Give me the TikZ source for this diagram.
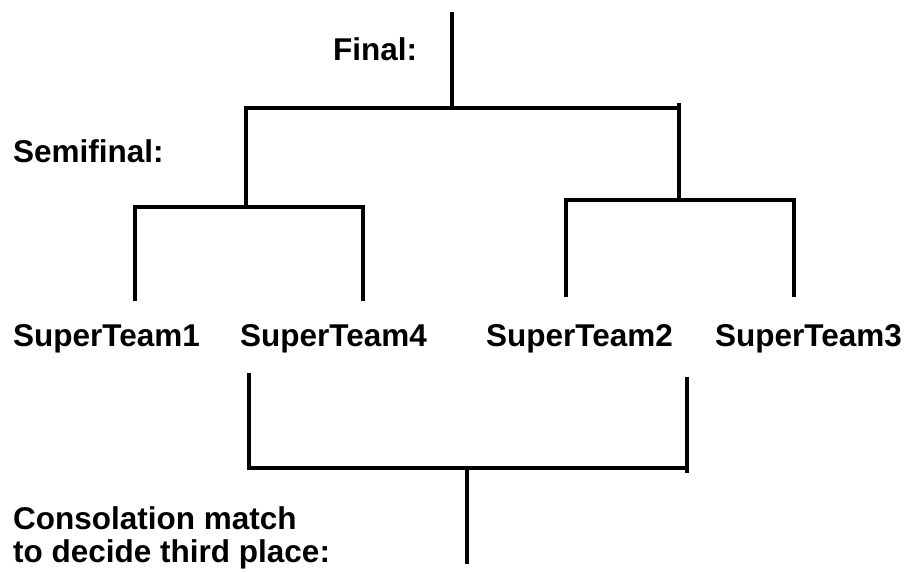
\documentclass[tikz,border=0pt]{standalone}
\usepackage{fontspec}
\setmainfont{Liberation Sans}
\begin{document}
\begin{tikzpicture}[x=1pt,y=-1pt,
  lbl/.style={font=\bfseries\fontsize{31.5}{33}\selectfont, inner sep=0pt, anchor=base west, align=left},
  team/.style={font=\bfseries\fontsize{31.5}{33}\selectfont, inner sep=0pt, anchor=base west},
  bar/.style={line width=3.5pt, line cap=butt}]
\useasboundingbox (0,0) rectangle (908,572);
% labels
\node[lbl] (final) at (333,61) {Final:};
\node[lbl] (semi) at (13,163) {Semifinal:};
\node[team] (t1) at (13,346) {SuperTeam1};
\node[team] (t4) at (240,346) {SuperTeam4};
\node[team] (t2) at (486,346) {SuperTeam2};
\node[team] (t3) at (715,346) {SuperTeam3};
\node[lbl, anchor=north west] (cons) at (13,506) {Consolation match\\to decide third place:};
% coordinates
\coordinate (ftop) at (452,12);
\coordinate (fmid) at (452,108);
\coordinate (fl) at (246,108);
\coordinate (fr) at (679,108);
\coordinate (frtop) at (679,103);
\coordinate (sl) at (246,207);
\coordinate (sr) at (679,200);
\coordinate (sl1) at (135,207);
\coordinate (sl4) at (363,207);
\coordinate (sr2) at (566,200);
\coordinate (sr3) at (794,200);
\coordinate (b1) at (135,301);
\coordinate (b4) at (363,301);
\coordinate (b2) at (566,297);
\coordinate (b3) at (794,297);
\coordinate (c4) at (249,373);
\coordinate (c2) at (687,377);
\coordinate (cl) at (249,468);
\coordinate (cr) at (687,468);
\coordinate (crb) at (687,473);
\coordinate (cmid) at (467,468);
\coordinate (cbot) at (467,564);
% final bracket
\draw[bar] (ftop) -- (fmid);
\draw[bar] ([xshift=-1.75pt]fl) -- ([xshift=1.75pt]fr);
\draw[bar] (fl) -- (sl);
\draw[bar] (frtop) -- (sr);
% semifinal brackets
\draw[bar] ([xshift=-1.75pt]sl1) -- ([xshift=1.75pt]sl4);
\draw[bar] (sl1) -- (b1);
\draw[bar] (sl4) -- (b4);
\draw[bar] ([xshift=-1.75pt]sr2) -- ([xshift=1.75pt]sr3);
\draw[bar] (sr2) -- (b2);
\draw[bar] (sr3) -- (b3);
% consolation bracket
\draw[bar] (c4) -- (cl);
\draw[bar] (c2) -- (crb);
\draw[bar] ([xshift=-1.75pt]cl) -- (cr);
\draw[bar] (cmid) -- (cbot);
\end{tikzpicture}
\end{document}
